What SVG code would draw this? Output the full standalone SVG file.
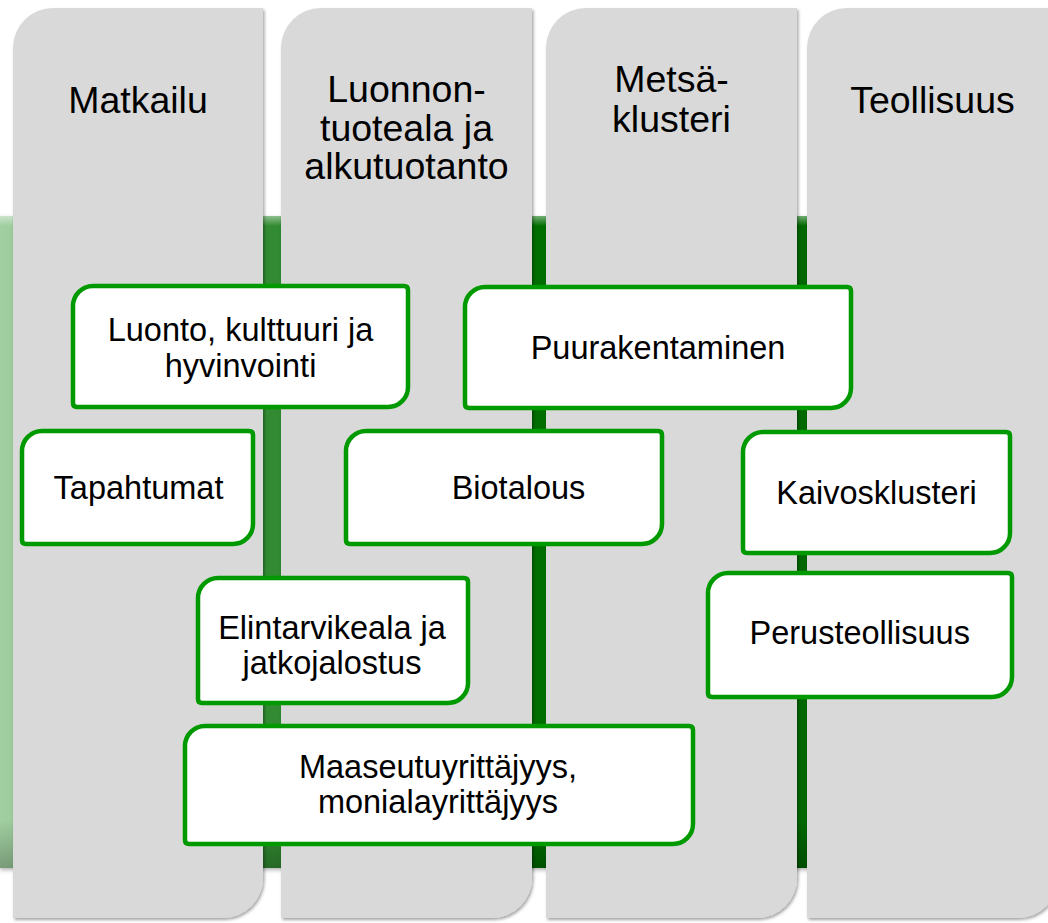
<svg xmlns="http://www.w3.org/2000/svg" width="1048" height="923" viewBox="0 0 1048 923">
  <defs>
    <linearGradient id="band" x1="0" y1="0" x2="1048" y2="0" gradientUnits="userSpaceOnUse">
      <stop offset="0" stop-color="#a2cfa2"/>
      <stop offset="0.25" stop-color="#338c33"/>
      <stop offset="0.5" stop-color="#006e00"/>
      <stop offset="1" stop-color="#006300"/>
    </linearGradient>
    <linearGradient id="gloss" x1="0" y1="0" x2="0" y2="1">
      <stop offset="0" stop-color="#ffffff" stop-opacity="0.45"/>
      <stop offset="1" stop-color="#ffffff" stop-opacity="0"/>
    </linearGradient>
    <linearGradient id="shade" x1="0" y1="0" x2="0" y2="1">
      <stop offset="0" stop-color="#000000" stop-opacity="0"/>
      <stop offset="1" stop-color="#000000" stop-opacity="0.25"/>
    </linearGradient>
    <filter id="sh" x="-5%" y="-5%" width="110%" height="110%">
      <feDropShadow dx="1.5" dy="2" stdDeviation="1.8" flood-color="#000" flood-opacity="0.35"/>
    </filter>
    <filter id="bsh" x="-5%" y="-5%" width="110%" height="110%">
      <feDropShadow dx="0" dy="2" stdDeviation="2" flood-color="#000" flood-opacity="0.3"/>
    </filter>
  </defs>
  <style>
    .col { fill: #d9d9d9; filter: url(#sh); }
    .box { fill: #ffffff; stroke: #009900; stroke-width: 4.5; stroke-linejoin: round; }
    .hd { font-family: "Liberation Sans", Arial, sans-serif; font-size: 37.5px; fill: #000; text-anchor: middle; }
    .tx { font-family: "Liberation Sans", Arial, sans-serif; font-size: 32.5px; fill: #000; text-anchor: middle; }
  </style>
  <rect width="1048" height="923" fill="#ffffff"/>

  <g id="band-bg">
    <rect x="0" y="216" width="1048" height="652" fill="url(#band)" filter="url(#bsh)"/>
    <rect x="0" y="216" width="1048" height="10" fill="url(#gloss)"/>
    <rect x="0" y="820" width="1048" height="48" fill="url(#shade)"/>
  </g>

  <g id="columns">
    <g id="col-matkailu">
      <path class="col" d="M13,48 A40,40 0 0 1 53,8 H263 V878 A40,40 0 0 1 223,918 H13 Z"/>
      <text class="hd" x="138" y="113">Matkailu</text>
    </g>
    <g id="col-luonnontuoteala">
      <path class="col" d="M281,48 A40,40 0 0 1 321,8 H532 V878 A40,40 0 0 1 492,918 H281 Z"/>
      <text class="hd" x="406.5" y="102">Luonnon-</text>
      <text class="hd" x="406.5" y="140.7">tuoteala ja</text>
      <text class="hd" x="406.5" y="179.4">alkutuotanto</text>
    </g>
    <g id="col-metsaklusteri">
      <path class="col" d="M546,48 A40,40 0 0 1 586,8 H797 V878 A40,40 0 0 1 757,918 H546 Z"/>
      <text class="hd" x="671.5" y="92.3">Metsä-</text>
      <text class="hd" x="671.5" y="131.7">klusteri</text>
    </g>
    <g id="col-teollisuus">
      <path class="col" d="M807,48 A40,40 0 0 1 847,8 H1058 V878 A40,40 0 0 1 1018,918 H807 Z"/>
      <text class="hd" x="932.5" y="113">Teollisuus</text>
    </g>
  </g>

  <g id="connectors"></g>

  <g id="node-luonto">
    <path class="box" d="M73,306 A20,20 0 0 1 93,286 H404 Q408,286 408,290 V387 A20,20 0 0 1 388,407 H77 Q73,407 73,403 Z"/>
    <text class="tx" x="240.5" y="341">Luonto, kulttuuri ja</text>
    <text class="tx" x="240.5" y="377">hyvinvointi</text>
  </g>
  <g id="node-puurakentaminen">
    <path class="box" d="M465,307 A20,20 0 0 1 485,287 H847 Q851,287 851,291 V388 A20,20 0 0 1 831,408 H469 Q465,408 465,404 Z"/>
    <text class="tx" x="658" y="359">Puurakentaminen</text>
  </g>
  <g id="node-tapahtumat">
    <path class="box" d="M22,451 A20,20 0 0 1 42,431 H249 Q253,431 253,435 V524 A20,20 0 0 1 233,544 H26 Q22,544 22,540 Z"/>
    <text class="tx" x="138.5" y="499">Tapahtumat</text>
  </g>
  <g id="node-biotalous">
    <path class="box" d="M346,451 A20,20 0 0 1 366,431 H658 Q662,431 662,435 V524 A20,20 0 0 1 642,544 H350 Q346,544 346,540 Z"/>
    <text class="tx" x="518.5" y="499">Biotalous</text>
  </g>
  <g id="node-kaivosklusteri">
    <path class="box" d="M743,452 A20,20 0 0 1 763,432 H1006 Q1010,432 1010,436 V533 A20,20 0 0 1 990,553 H747 Q743,553 743,549 Z"/>
    <text class="tx" x="876.5" y="504">Kaivosklusteri</text>
  </g>
  <g id="node-perusteollisuus">
    <path class="box" d="M708,593 A20,20 0 0 1 728,573 H1008 Q1012,573 1012,577 V677 A20,20 0 0 1 992,697 H712 Q708,697 708,693 Z"/>
    <text class="tx" x="859.7" y="644">Perusteollisuus</text>
  </g>
  <g id="node-elintarvikeala">
    <path class="box" d="M198,598 A20,20 0 0 1 218,578 H464 Q468,578 468,582 V683 A20,20 0 0 1 448,703 H202 Q198,703 198,699 Z"/>
    <text class="tx" x="332" y="639">Elintarvikeala ja</text>
    <text class="tx" x="332" y="674">jatkojalostus</text>
  </g>
  <g id="node-maaseutu">
    <path class="box" d="M185,746 A20,20 0 0 1 205,726 H689 Q693,726 693,730 V824 A20,20 0 0 1 673,844 H189 Q185,844 185,840 Z"/>
    <text class="tx" x="438" y="778">Maaseutuyrittäjyys,</text>
    <text class="tx" x="438" y="813">monialayrittäjyys</text>
  </g>
</svg>
